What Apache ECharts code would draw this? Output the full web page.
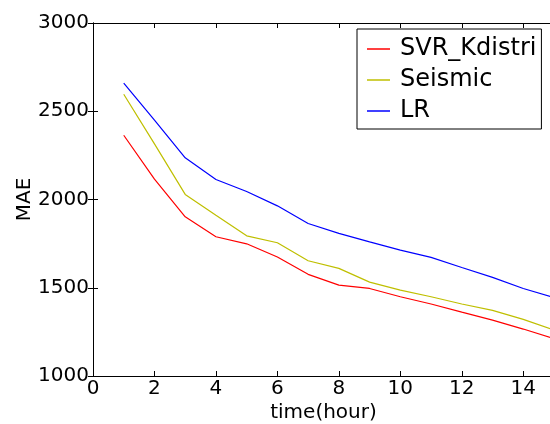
<!DOCTYPE html>
<html>
<head>
<meta charset="utf-8">
<script src="https://cdn.jsdelivr.net/npm/echarts@6/dist/echarts.min.js"></script>
<style>
  html, body { margin: 0; padding: 0; background: #fff; }
  #chart { width: 550px; height: 424px; }
</style>
</head>
<body>
<div id="chart"></div>
<script>
const hours = [1, 2, 3, 4, 5, 6, 7, 8, 9, 10, 11, 12, 13, 14, 15];
const svrKdistri = [2364, 2115, 1902, 1789, 1749, 1674, 1576, 1515, 1496, 1449, 1408, 1362, 1317, 1266, 1211];
const seismic = [2596, 2315, 2029, 1911, 1794, 1755, 1653, 1610, 1532, 1487, 1449, 1408, 1372, 1321, 1260];
const lr = [2660, 2450, 2236, 2113, 2045, 1964, 1864, 1808, 1760, 1713, 1672, 1615, 1559, 1496, 1445];

const font = "DejaVu Sans";
const pairs = (vals) => hours.map((h, i) => [h, vals[i]]);

const chart = echarts.init(document.getElementById("chart"));

const line = (name, vals, color) => ({
  name,
  type: "line",
  data: pairs(vals),
  symbol: "none",
  lineStyle: { color, width: 1.2 },
  itemStyle: { color },
  xAxisIndex: 0,
  yAxisIndex: 0,
});

const frameAxis = {
  axisLine: { show: true, lineStyle: { color: "#000", width: 1 } },
  axisTick: { show: true, inside: true, length: 5, lineStyle: { color: "#000" } },
  axisLabel: { show: false },
  splitLine: { show: false },
};

chart.setOption({
  animation: false,
  grid: { left: 93, right: -4, top: 23, bottom: 48, containLabel: false, outerBoundsMode: "none" },
  legend: {
    orient: "vertical",
    left: 357,
    top: 29,
    padding: [8, 5, 6, 10],
    icon: "rect",
    itemWidth: 23,
    itemHeight: 1.5,
    itemGap: 7,
    backgroundColor: "#fff",
    borderColor: "#000",
    borderWidth: 1,
    borderRadius: 0,
    textStyle: { fontFamily: font, fontSize: 24, lineHeight: 24, color: "#000", padding: [0, 0, 0, 5] },
    data: ["SVR_Kdistri", "Seismic", "LR"],
  },
  xAxis: [
    {
      type: "value",
      min: 0,
      max: 15,
      interval: 2,
      name: "time(hour)",
      nameLocation: "middle",
      nameGap: 27,
      nameMoveOverlap: false,
      nameTextStyle: { fontFamily: font, fontSize: 20, color: "#000" },
      axisLine: { show: true, lineStyle: { color: "#000", width: 1 } },
      axisTick: { show: true, inside: true, length: 5, lineStyle: { color: "#000" } },
      axisLabel: { fontFamily: font, fontSize: 20, color: "#000", margin: 3, showMaxLabel: false },
      splitLine: { show: false },
    },
    Object.assign({ type: "value", min: 0, max: 15, interval: 2, position: "top" }, frameAxis),
  ],
  yAxis: [
    {
      type: "value",
      min: 1000,
      max: 3000,
      interval: 500,
      name: "MAE",
      nameLocation: "middle",
      nameGap: 58,
      nameMoveOverlap: false,
      nameTextStyle: { fontFamily: font, fontSize: 20, color: "#000" },
      axisLine: { show: true, lineStyle: { color: "#000", width: 1 } },
      axisTick: { show: true, inside: true, length: 5, lineStyle: { color: "#000" } },
      axisLabel: { fontFamily: font, fontSize: 20, color: "#000", margin: 4, formatter: (v) => String(v) },
      splitLine: { show: false },
    },
    Object.assign({ type: "value", min: 1000, max: 3000, interval: 500, position: "right" }, frameAxis),
  ],
  series: [
    line("SVR_Kdistri", svrKdistri, "#ff0000"),
    line("Seismic", seismic, "#bfbf00"),
    line("LR", lr, "#0000ff"),
  ],
});
</script>
</body>
</html>
